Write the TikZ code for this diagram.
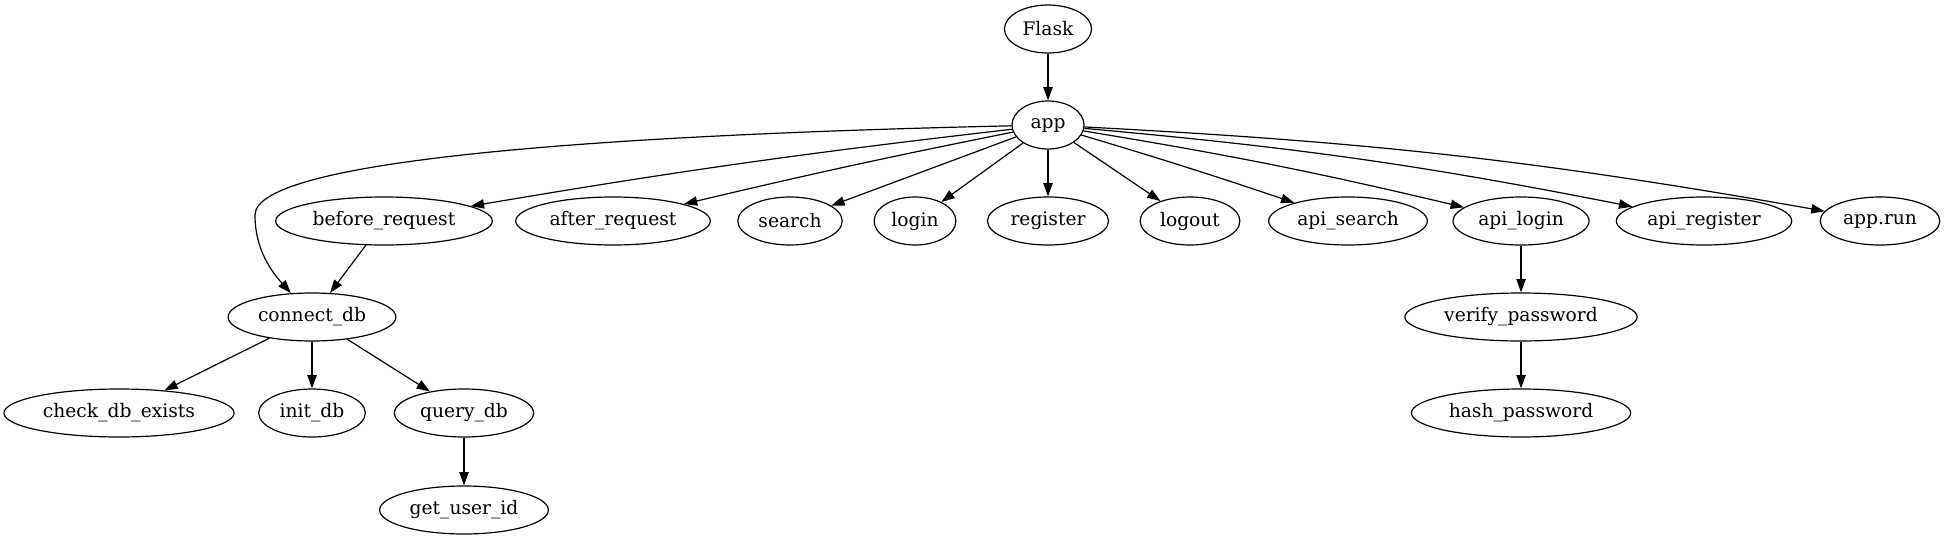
\documentclass[tikz,border=0pt]{standalone}
\usepackage{fontspec}
\setmainfont{DejaVu Serif}
\usetikzlibrary{shapes.geometric,arrows.meta}

\begin{document}
\begin{tikzpicture}[x=0.75pt, y=-0.75pt, >={Triangle[length=10pt,width=7pt]},
    fn/.style={ellipse, draw, line width=0.9pt, inner xsep=4pt, inner ysep=2pt,
        minimum width=54pt, minimum height=36pt, font=\fontsize{14}{16}\selectfont},
    every path/.style={line width=0.9pt}]

    \useasboundingbox (0,0) rectangle (1944,539);

    % top
    \node[fn] (flask) at (1048,29) {Flask};
    \node[fn] (app) at (1048,125) {app};

    % routes
    \foreach \x/\name/\txt in {
        384/beforerequest/before\_request,
        613/afterrequest/after\_request,
        790/search/search,
        915/login/login,
        1048/register/register,
        1190/logout/logout,
        1348/apisearch/api\_search,
        1521/apilogin/api\_login,
        1704/apiregister/api\_register,
        1880/apprun/app.run
    }{
        \node[fn] (\name) at (\x,221) {\txt};
    }

    % helpers
    \node[fn] (connectdb) at (312,317) {connect\_db};
    \node[fn] (verifypw) at (1521,317) {verify\_password};
    \node[fn] (checkdb) at (119,413) {check\_db\_exists};
    \node[fn] (initdb) at (312,413) {init\_db};
    \node[fn] (querydb) at (464,413) {query\_db};
    \node[fn] (hashpw) at (1521,413) {hash\_password};
    \node[fn] (getuser) at (464,510) {get\_user\_id};

    % edges
    \draw[->] (flask) -- (app);
    \foreach \n/\b in {beforerequest/-1.5, afterrequest/-1, search/0, login/0,
        register/0, logout/0, apisearch/1, apilogin/2, apiregister/3, apprun/3.5}{
        \draw[->] (app) to[bend left=\b] (\n);
    }
    \draw[->] (app) .. controls (600,135) and (255,160) .. (255,215)
        .. controls (255,250) and (272,272) .. (connectdb);
    \draw[->] (beforerequest) -- (connectdb);
    \draw[->] (connectdb) -- (checkdb);
    \draw[->] (connectdb) -- (initdb);
    \draw[->] (connectdb) -- (querydb);
    \draw[->] (querydb) -- (getuser);
    \draw[->] (apilogin) -- (verifypw);
    \draw[->] (verifypw) -- (hashpw);
\end{tikzpicture}
\end{document}
